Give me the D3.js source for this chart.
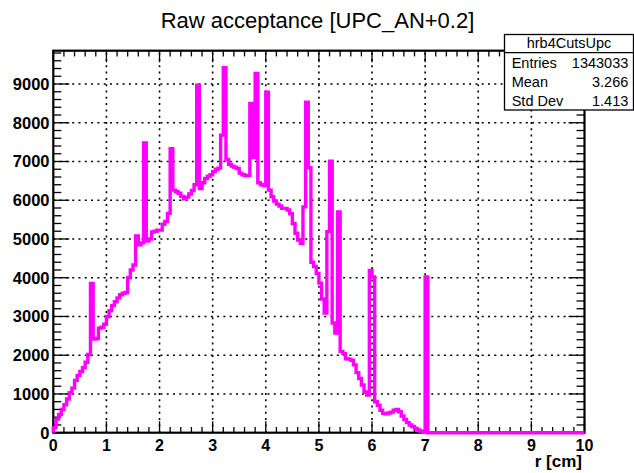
<!DOCTYPE html>
<html><head><meta charset="utf-8">
<script src="https://cdn.jsdelivr.net/npm/d3@7"></script>
<style>body{margin:0;background:#fff} svg{display:block}</style>
</head><body>
<svg id="c" width="634" height="473"></svg>
<script>
// ---- data ----
const xMin = 0, xMax = 10, binWidth = 0.05;
const counts = [
  130, 350, 470, 600, 720, 870, 1030, 1150, 1350, 1480,
  1580, 1680, 1820, 2020, 3850, 2420, 2430, 2700, 2720, 2800,
  3000, 3150, 3280, 3380, 3480, 3560, 3600, 3620, 4000, 4200,
  4330, 5080, 4850, 4900, 7480, 4950, 5000, 5180, 5200, 5230,
  5230, 5380, 5450, 5660, 7330, 6260, 6220, 6180, 6100, 6040,
  6080, 6160, 6250, 6400, 8970, 6300, 6450, 6560, 6620, 6660,
  6740, 6800, 6830, 7680, 9420, 7050, 6930, 6880, 6850, 6820,
  6700, 6660, 6640, 6640, 8500, 7100, 9270, 6450, 6400, 6380,
  8790, 6260, 6090, 5980, 5900, 5850, 5790, 5790, 5750, 5650,
  5400, 5150, 4970, 4890, 5830, 8530, 6840, 4400, 4290, 4110,
  3860, 3450, 3090, 5190, 7010, 2830, 2570, 5700, 2100, 2040,
  1910, 1900, 1870, 1750, 1550, 1400, 1230, 1050, 970, 4190,
  4020, 800, 710, 580, 500, 490, 510, 530, 580, 600,
  540, 430, 340, 260, 200, 160, 110, 70, 40, 10,
  4020, 0, 0, 0, 0, 0, 0, 0, 0, 0,
  0, 0, 0, 0, 0, 0, 0, 0, 0, 0,
  0, 0, 0, 0, 0, 0, 0, 0, 0, 0,
  0, 0, 0, 0, 0, 0, 0, 0, 0, 0,
  0, 0, 0, 0, 0, 0, 0, 0, 0, 0,
  0, 0, 0, 0, 0, 0, 0, 0, 0, 0
];
const xTicks = [0, 1, 2, 3, 4, 5, 6, 7, 8, 9, 10];
const yTicks = [0, 1000, 2000, 3000, 4000, 5000, 6000, 7000, 8000, 9000];
const yMax = 9860;
const title = "Raw acceptance [UPC_AN+0.2]";
const xTitle = "r [cm]";
const statsName = "hrb4CutsUpc";
const statsLabels = ["Entries", "Mean", "Std Dev"];
const statsValues = ["1343033", "3.266", "1.413"];

// ---- layout ----
const L = 53.3, R = 584.5, T = 50.7, B = 432.7;
const FONT = "'Liberation Sans', Arial, Helvetica, sans-serif";
const svg = d3.select("#c");
const x = d3.scaleLinear().domain([xMin, xMax]).range([L, R]);
const y = d3.scaleLinear().domain([0, yMax]).range([B, T]);

svg.append("rect").attr("width", 634).attr("height", 473).attr("fill", "#fff");

// grid
const grid = svg.append("g").attr("stroke", "#000").attr("stroke-width", 1.6)
  .attr("stroke-dasharray", "2,4.3").attr("fill", "none");
grid.selectAll("line.vx").data(xTicks.filter(d => d > xMin && d < xMax)).join("line")
  .attr("x1", d => x(d)).attr("x2", d => x(d)).attr("y1", B).attr("y2", T);
grid.selectAll("line.hy").data(yTicks.filter(d => d > 0)).join("line")
  .attr("class", "hy")
  .attr("x1", L).attr("x2", R).attr("y1", d => y(d)).attr("y2", d => y(d));

// ticks
const minorX = d3.range(0, 51).map(k => xMin + k * 0.2);
const minorY = d3.range(0, 50).map(k => k * 200).filter(v => v <= yMax);
const tk = svg.append("g").attr("stroke", "#000").attr("stroke-width", 1.3);
const xMajLen = 11.5, xMinLen = 5.7, yMajLen = 16, yMinLen = 8;
minorX.forEach(v => {
  const isMaj = Math.abs(v - Math.round(v)) < 1e-6;
  const len = isMaj ? xMajLen : xMinLen;
  tk.append("line").attr("x1", x(v)).attr("x2", x(v)).attr("y1", B).attr("y2", B - len);
  tk.append("line").attr("x1", x(v)).attr("x2", x(v)).attr("y1", T).attr("y2", T + len);
});
minorY.forEach(v => {
  const isMaj = v % 1000 === 0;
  const len = isMaj ? yMajLen : yMinLen;
  tk.append("line").attr("x1", L).attr("x2", L + len).attr("y1", y(v)).attr("y2", y(v));
  tk.append("line").attr("x1", R).attr("x2", R - len).attr("y1", y(v)).attr("y2", y(v));
});

// frame
svg.append("rect").attr("x", L).attr("y", T).attr("width", R - L).attr("height", B - T)
  .attr("fill", "none").attr("stroke", "#000").attr("stroke-width", 2.2);

// histogram outline
const pts = [[x(xMin), y(0)]];
counts.forEach((c, i) => {
  const lo = xMin + i * binWidth, hi = lo + binWidth;
  pts.push([x(lo), y(c)], [x(hi), y(c)]);
});
pts.push([x(xMax), y(0)]);
svg.append("path").attr("d", d3.line()(pts))
  .attr("fill", "none").attr("stroke", "#ff00ff").attr("stroke-width", 3.4)
  .attr("stroke-linejoin", "miter");

// tick labels
svg.append("g").selectAll("text").data(xTicks).join("text")
  .attr("x", d => x(d)).attr("y", 450.6).attr("text-anchor", "middle")
  .attr("font-family", FONT).attr("font-weight", "bold").attr("font-size", 16)
  .text(d => d);
svg.append("g").selectAll("text").data(yTicks).join("text")
  .attr("x", 49.5).attr("y", d => y(d) + 5.8).attr("text-anchor", "end")
  .attr("font-family", FONT).attr("font-weight", "bold").attr("font-size", 16.5)
  .text(d => d3.format("d")(d));

// axis title
svg.append("text").attr("x", 582).attr("y", 466.5).attr("text-anchor", "end")
  .attr("font-family", FONT).attr("font-weight", "bold").attr("font-size", 17)
  .text(xTitle);

// title
svg.append("text").attr("x", 317.5).attr("y", 27.7).attr("text-anchor", "middle")
  .attr("font-family", FONT).attr("font-size", 22).text(title);

// stats box
const sb = svg.append("g");
const bx = 504.5, by = 34.5, bw = 129, bh = 75.5;
sb.append("rect").attr("x", bx).attr("y", by).attr("width", bw).attr("height", bh)
  .attr("fill", "#fff").attr("stroke", "#000").attr("stroke-width", 1.3);
sb.append("line").attr("x1", bx).attr("x2", bx + bw).attr("y1", 52.7).attr("y2", 52.7)
  .attr("stroke", "#000").attr("stroke-width", 1.3);
sb.append("text").attr("x", bx + bw / 2).attr("y", 48.3).attr("text-anchor", "middle")
  .attr("font-family", FONT).attr("font-size", 14.5).text(statsName);
const rowY = [68.3, 87.3, 106];
statsLabels.forEach((s, i) => {
  sb.append("text").attr("x", 511.7).attr("y", rowY[i])
    .attr("font-family", FONT).attr("font-size", 14.5).text(s);
  sb.append("text").attr("x", 628.3).attr("y", rowY[i]).attr("text-anchor", "end")
    .attr("font-family", FONT).attr("font-size", 14.5).text(statsValues[i]);
});
</script>
</body></html>
